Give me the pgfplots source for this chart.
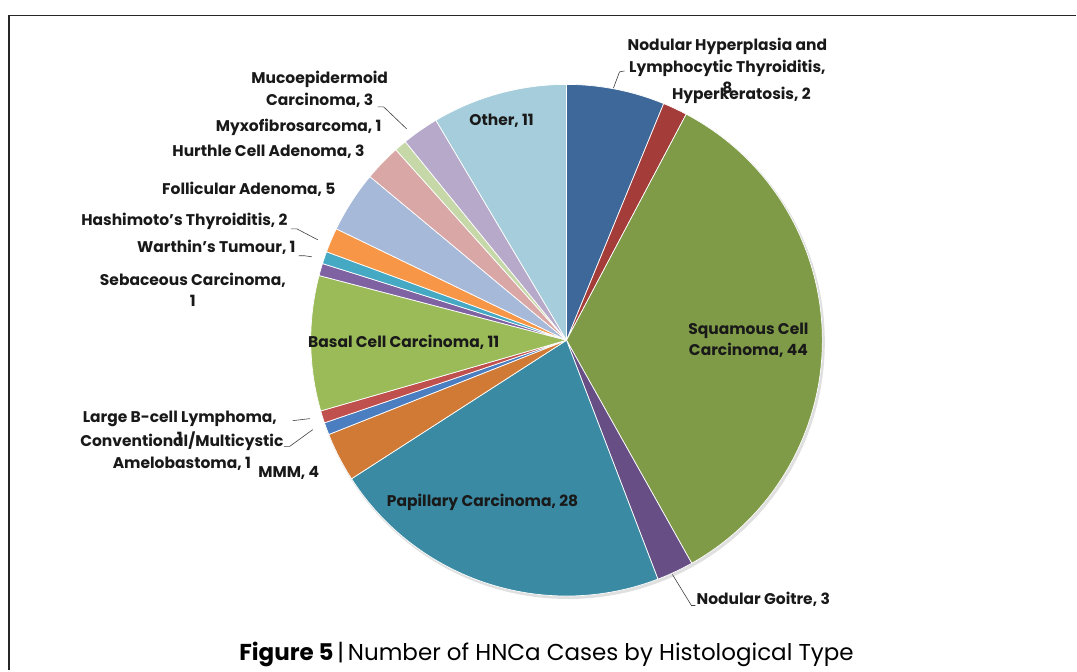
\documentclass[border=0pt]{standalone}
\usepackage{pgfplots}
\pgfplotsset{compat=1.18}
\usepackage{pgfplotstable}
\usepackage{fontspec}
\setmainfont{Poppins}
\definecolor{pc1}{HTML}{3D6899}
\definecolor{pc2}{HTML}{A43C3A}
\definecolor{pc3}{HTML}{7F9B48}
\definecolor{pc4}{HTML}{674F86}
\definecolor{pc5}{HTML}{3A8AA3}
\definecolor{pc6}{HTML}{D17A36}
\definecolor{pc7}{HTML}{4A7EC0}
\definecolor{pc8}{HTML}{C0504D}
\definecolor{pc9}{HTML}{9BBB59}
\definecolor{pc10}{HTML}{7E62A1}
\definecolor{pc11}{HTML}{45A9C4}
\definecolor{pc12}{HTML}{F79646}
\definecolor{pc13}{HTML}{A7B9D9}
\definecolor{pc14}{HTML}{D9A7A6}
\definecolor{pc15}{HTML}{C6D8A8}
\definecolor{pc16}{HTML}{B6A9CA}
\definecolor{pc17}{HTML}{A6CDDB}
\begin{document}
\begin{tikzpicture}
% counts, clockwise from 12 o'clock
\xdef\cum{0}
\foreach \v [count=\i] in {8,2,44,3,28,4,1,1,11,1,1,2,5,3,1,3,11} {
  \pgfmathsetmacro\s{90-\cum/129*360}
  \pgfmathsetmacro\e{90-(\cum+\v)/129*360}
  \expandafter\xdef\csname ps\i\endcsname{\s}
  \expandafter\xdef\csname pe\i\endcsname{\e}
  \pgfmathsetmacro\c{\cum+\v}
  \xdef\cum{\c}
}
\begin{axis}[
  width=1077pt, height=671pt, scale only axis,
  xmin=0, xmax=1077, ymin=0, ymax=671,
  hide axis, clip=false,
]
\path (axis cs:0,0) rectangle (axis cs:1077,671);
\draw[line width=1.8pt, black!85] (axis cs:9,0) -- (axis cs:9,655.5) -- (axis cs:1077,655.5);
% faint shadow
\fill[black!12] (axis cs:568.5,328.5) circle[radius=257pt];
\pgfplotsinvokeforeach{1,...,17}{
  \fill[pc#1, draw=white, line width=0.7pt, line join=round]
    (axis cs:567,330.5) -- ++(\csname ps#1\endcsname:256pt)
    arc[start angle=\csname ps#1\endcsname, end angle=\csname pe#1\endcsname, radius=256pt] -- cycle;
}
% leader lines
\begin{scope}[line width=0.6pt, black!75]
\draw (axis cs:614,583) -- (axis cs:620,599) -- (axis cs:625,600);
\draw (axis cs:673,96) -- (axis cs:692,65) -- (axis cs:696,65);
\draw (axis cs:284,224.3) -- (axis cs:290,224.3) -- (axis cs:313,241);
\draw (axis cs:293,250) -- (axis cs:310,252);
\draw (axis cs:299,415) -- (axis cs:305,415) -- (axis cs:312,414);
\draw (axis cs:291,442) -- (axis cs:297,442) -- (axis cs:318,431);
\draw (axis cs:378,564) -- (axis cs:384,564) -- (axis cs:407,542);
\end{scope}
% labels
\begin{scope}[every node/.style={font=\bfseries\fontsize{15.5}{21.5}\selectfont, align=center, inner sep=0pt, text=black!90}]
\node at (axis cs:728,605) {Nodular Hyperplasia and\\Lymphocytic Thyroiditis,\\8};
\node at (axis cs:742,576) {Hyperkeratosis, 2};
\node at (axis cs:749,330.5) {Squamous Cell\\Carcinoma, 44};
\node[anchor=west] at (axis cs:697,71) {Nodular Goitre, 3};
\node at (axis cs:483,168.3) {Papillary Carcinoma, 28};
\node at (axis cs:289,198) {MMM, 4};
\node at (axis cs:182,219.3) {Conventional/Multicystic\\Amelobastoma, 1};
\node at (axis cs:180,243.5) {Large B-cell Lymphoma,\\1};
\node at (axis cs:404,328.3) {Basal Cell Carcinoma, 11};
\node at (axis cs:193,381) {Sebaceous Carcinoma,\\1};
\node[anchor=east] at (axis cs:296,423) {Warthin's Tumour, 1};
\node[anchor=east] at (axis cs:288,449) {Hashimoto's Thyroiditis, 2};
\node[anchor=east] at (axis cs:336,482) {Follicular Adenoma, 5};
\node[anchor=east] at (axis cs:365,519) {Hurthle Cell Adenoma, 3};
\node[anchor=east] at (axis cs:382,544) {Myxofibrosarcoma, 1};
\node at (axis cs:320,581.5) {Mucoepidermoid\\Carcinoma, 3};
\node at (axis cs:502,550) {Other, 11};
\end{scope}
\node[font=\fontsize{23}{27}\selectfont, inner sep=0pt] at (axis cs:547,16) {\textbf{Figure 5}\,|\,Number of HNCa Cases by Histological Type};
\end{axis}
\end{tikzpicture}
\end{document}
